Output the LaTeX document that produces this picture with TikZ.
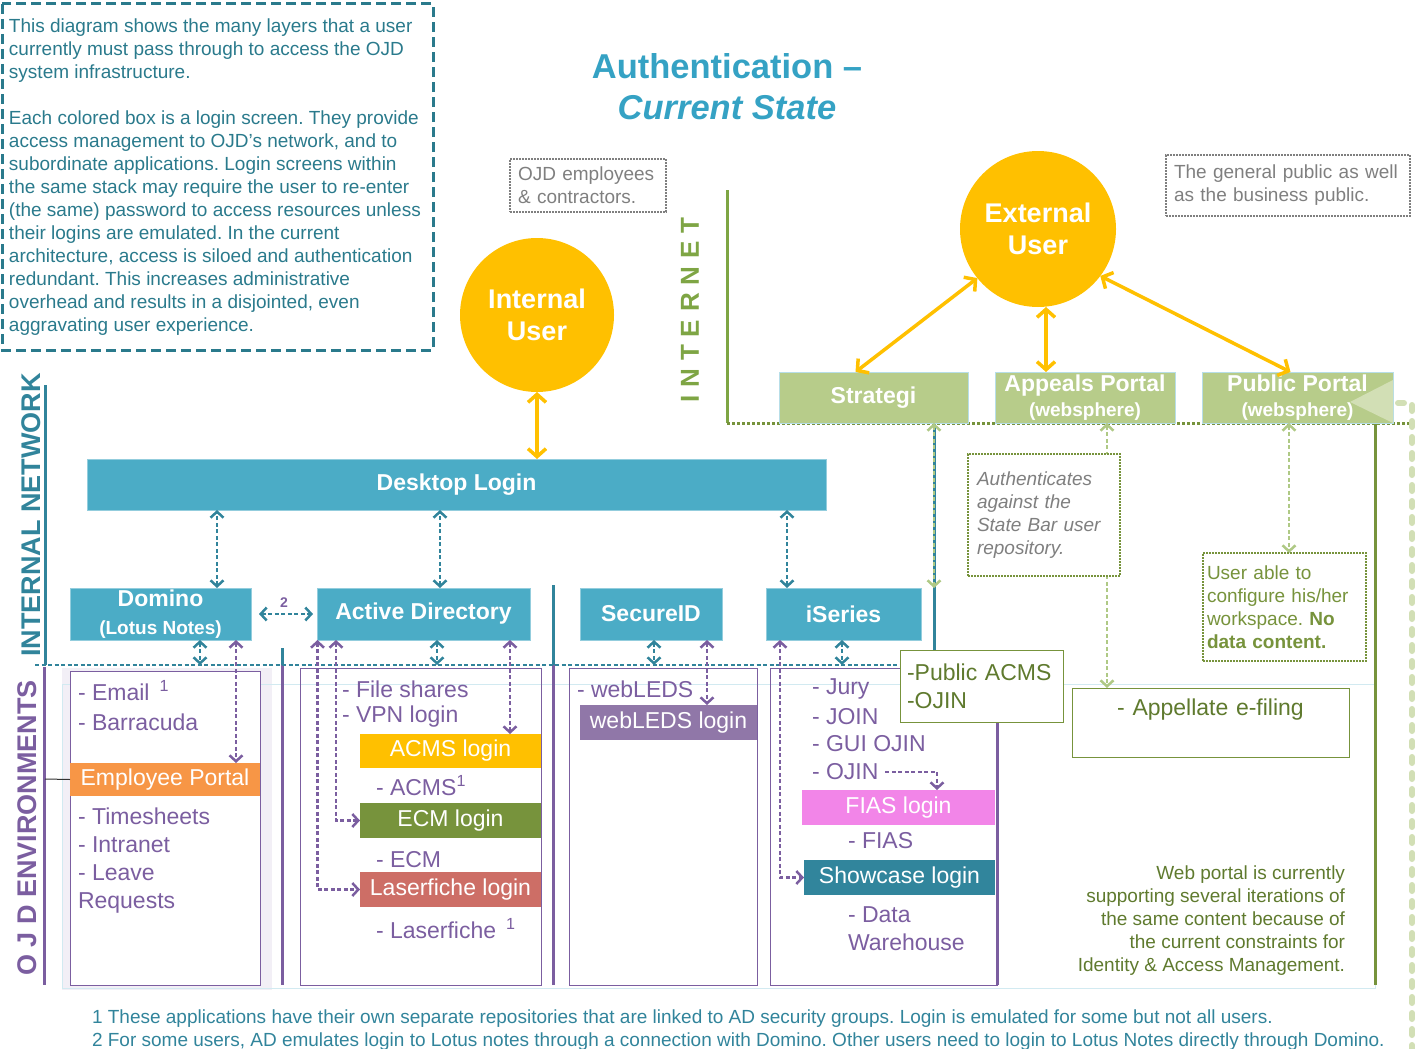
\documentclass[tikz,border=0pt]{standalone}
\usepackage{fontspec}
\setmainfont{Liberation Sans}
\usetikzlibrary{arrows.meta}

\definecolor{ojdblue}{HTML}{4BACC6}
\definecolor{ojdteal}{HTML}{31849B}
\definecolor{ojdtext}{HTML}{2A7A8C}
\definecolor{titleblue}{HTML}{35A2C4}
\definecolor{ojdyellow}{HTML}{FFC000}
\definecolor{webgreen}{HTML}{B7CC8A}
\definecolor{inetgreen}{HTML}{7EA544}
\definecolor{darkgreen}{HTML}{77933C}
\definecolor{webolive}{HTML}{5F7A2E}
\definecolor{palegreen}{HTML}{D2DFB5}
\definecolor{linkgreen}{HTML}{AFC985}
\definecolor{envpurple}{HTML}{7B5EA0}
\definecolor{notegray}{HTML}{7F7F7F}
\definecolor{emporange}{HTML}{F79646}
\definecolor{lfred}{HTML}{CD6E66}
\definecolor{fiaspink}{HTML}{F285E8}
\definecolor{showteal}{HTML}{31859C}
\definecolor{ledspurple}{HTML}{9077A8}

\begin{document}
\frenchspacing
\begin{tikzpicture}[x=1pt, y=-1pt,
  every node/.style = {inner sep=0pt, outer sep=0pt},
  >={Straight Barb[length=6pt,width=13pt]},
  user/.style   = {circle, fill=ojdyellow, text=white, align=center,
    font=\fontsize{27}{32}\selectfont\bfseries},
  sso/.style    = {fill=ojdblue, draw=ojdblue!60!white, text=white,
    align=center, minimum height=52,
    font=\fontsize{23}{29}\selectfont\bfseries},
  portal/.style = {fill=webgreen, draw=ojdblue!40, text=white,
    align=center, minimum height=51,
    font=\fontsize{23}{26}\selectfont\bfseries},
  login/.style  = {text=white, font=\fontsize{23}{24}\selectfont},
  app/.style    = {anchor=west, text=envpurple, align=left,
    font=\fontsize{23}{28}\selectfont},
  envframe/.style = {draw=envpurple, line width=1},
  note/.style   = {draw=notegray, line width=1.5,
    dash pattern=on 2pt off 1pt, text=notegray, align=left,
    inner xsep=8, inner ysep=5, font=\fontsize{19}{23}\selectfont},
  gnote/.style  = {draw=darkgreen, fill=white, line width=2,
    dash pattern=on 2pt off 1pt, align=left,
    font=\fontsize{19}{23}\selectfont},
  gbox/.style   = {draw=darkgreen, fill=white, line width=1,
    text=webolive, font=\fontsize{23}{28}\selectfont},
  ulink/.style  = {draw=ojdyellow, line width=3.5,
    {Straight Barb[length=8pt,width=18pt]}-{Straight Barb[length=8pt,width=18pt]}},
  tlink/.style  = {draw=ojdteal, line width=2.5,
    dash pattern=on 4pt off 2.5pt, <->},
  plink/.style  = {draw=envpurple, line width=2.5,
    dash pattern=on 4pt off 2.5pt, <->},
  glink/.style  = {draw=linkgreen, line width=2.5,
    dash pattern=on 4pt off 2.5pt, <->},
  ]
  \useasboundingbox (0,0) rectangle (1427,1049);

  \draw[ojdtext, line width=3, dash pattern=on 10pt off 5pt]
    (2,4) rectangle (433,350);
  \node[anchor=north west, text=ojdtext, align=left,
    font=\fontsize{19}{23}\selectfont] (intro) at (9,19)
    {This diagram shows the many layers that a user\\
     currently must pass through to access the OJD\\
     system infrastructure.\\[23pt]
     Each colored box is a login screen. They provide\\
     access management to OJD’s network, and to\\
     subordinate applications. Login screens within\\
     the same stack may require the user to re-enter\\
     (the same) password to access resources unless\\
     their logins are emulated. In the current\\
     architecture, access is siloed and authentication\\
     redundant. This increases administrative\\
     overhead and results in a disjointed, even\\
     aggravating user experience.};

  \node[text=titleblue, align=center,
    font=\fontsize{34.5}{41}\selectfont\bfseries] (title) at (727,87)
    {Authentication --\\\itshape Current State};

  \node[note, anchor=north west, text width=140, minimum height=53]
    (empnote) at (510,159) {OJD employees\\\& contractors.};
  \node[note, anchor=north west, text width=228, minimum height=61]
    (pubnote) at (1166,155) {The general public as well\\as the business public.};

  \node[user, minimum size=154] (intuser) at (537,315) {Internal\\User};
  \node[user, minimum size=156] (extuser) at (1038,229) {External\\User};

  % zones
  \node[rotate=90, text=inetgreen,
    font=\fontsize{26}{26}\selectfont\bfseries\addfontfeature{LetterSpace=30}]
    (inet) at (690,310) {INTERNET};
  \node[rotate=90, text=ojdteal, font=\fontsize{27}{27}\selectfont\bfseries]
    (intnet) at (31,515) {INTERNAL NETWORK};
  \node[rotate=90, text=envpurple, font=\fontsize{27}{27}\selectfont\bfseries]
    (ojdenv) at (27,828) {O J D ENVIRONMENTS};
  \draw[inetgreen, line width=3] (727,190) -- (727,423);
  \draw[ojdteal, line width=3] (45,385) -- (45,665);
  \draw[envpurple, line width=3] (44,667) -- (44,985);

  \fill[envpurple!10] (62,668) rectangle (272,990);
  \draw[ojdblue!25, line width=1] (62,684) rectangle (1375,988);
  \draw[envframe, fill=white] (70,671) rectangle (260,985);
  \draw[envframe] (300,668) rectangle (541,985);
  \draw[envframe] (569,668) rectangle (757,985);
  \draw[envframe] (770,668) rectangle (997,985);

  \draw[ojdteal, line width=3] (282,648) -- (282,665);
  \draw[envpurple, line width=3] (282,665) -- (282,985);
  \draw[ojdteal, line width=3] (553,585) -- (553,665);
  \draw[envpurple, line width=3] (553,665) -- (553,985);
  \draw[ojdteal, line width=3] (934,423) -- (934,650);
  \draw[envpurple, line width=3] (997,722) -- (997,985);
  \draw[darkgreen, line width=3] (1375,423) -- (1375,985);

  \coordinate (netL) at (35,665);
  \coordinate (netR) at (905,665);
  \draw[ojdteal, line width=2.5, dash pattern=on 4pt off 2.5pt] (netL) -- (netR);
  \draw[darkgreen, line width=3, dash pattern=on 3pt off 2pt]
    (727,423) -- (1415,423);

  % login screens
  \node[sso, minimum width=739, minimum height=51] (desktop) at (456.5,484.5)
    {Desktop Login};
  \node[sso, minimum width=181] (dom) at (160.5,614)
    {Domino\\[-1pt]{\fontsize{19}{20}\selectfont(Lotus Notes)}};
  \node[sso, minimum width=213] (ad) at (423.5,614) {Active Directory};
  \node[sso, minimum width=142] (sid) at (651,614) {SecureID};
  \node[sso, minimum width=155] (iser) at (843.5,614) {iSeries};

  \node[portal, minimum width=189] (strat) at (873.5,397.5) {Strategi};
  \node[portal, minimum width=180] (appeal) at (1085,397.5)
    {Appeals Portal\\[-1pt]{\fontsize{19}{20}\selectfont(websphere)}};
  \node[portal, minimum width=191] (pub) at (1297.5,397.5)
    {Public Portal\\[-1pt]{\fontsize{19}{20}\selectfont(websphere)}};
  \fill[palegreen] (1393,380) -- (1350,402) -- (1393,423) -- cycle;
  \draw[palegreen, line width=6, line cap=round, dash pattern=on 6pt off 10pt]
    (1398,403) -- (1412,403) -- (1412,1049);

  % environments
  \node[app] (email) at (78,691) {- Email\hspace{10pt}\textsuperscript{1}};
  \node[app] (barra) at (78,722) {- Barracuda};
  \node[login, fill=emporange, minimum width=190, minimum height=33]
    (emp) at (165,779.5) {Employee Portal};
  \node[app, anchor=north west] (empapps) at (78,808)
    {- Timesheets\\- Intranet\\- Leave\\Requests};

  \node[app] (files) at (342,689) {- File shares};
  \node[app] (vpn) at (342,717) {- VPN login};
  \node[login, fill=ojdyellow, minimum width=181, minimum height=34]
    (acms) at (450.5,751) {ACMS login};
  \node[app] (acmsapp) at (376,786) {- ACMS\textsuperscript{1}};
  \node[login, fill=darkgreen, minimum width=181, minimum height=35]
    (ecm) at (450.5,820.5) {ECM login};
  \node[app] (ecmapp) at (376,860) {- ECM};
  \node[login, fill=lfred, minimum width=181, minimum height=35]
    (lf) at (450.5,889.5) {Laserfiche login};
  \node[app] (lfapp) at (376,929) {- Laserfiche\hspace{10pt}\textsuperscript{1}};

  \node[app] (leds) at (577,689) {- webLEDS};
  \node[login, fill=ledspurple, minimum width=177, minimum height=35]
    (wl) at (668.5,722.5) {webLEDS login};

  \node[app] (jury) at (812,689) {- Jury};
  \node[app] (join) at (812,717) {- JOIN};
  \node[app] (gui) at (812,744) {- GUI OJIN};
  \node[app] (ojin) at (812,772) {- OJIN};
  \node[login, fill=fiaspink, minimum width=193, minimum height=35]
    (fias) at (898.5,807.5) {FIAS login};
  \node[app] (fiasapp) at (848,841) {- FIAS};
  \node[login, fill=showteal, minimum width=191, minimum height=35]
    (show) at (899.5,877.5) {Showcase login};
  \node[app, anchor=north west] (dw) at (848,907) {- Data\\Warehouse};

  \node[gbox, anchor=north west, align=left, text width=149, inner xsep=7,
    minimum height=72] (pacms) at (900,650) {-Public ACMS\\-OJIN};
  \node[gbox, anchor=north west, align=center, text width=277,
    text height=22, text depth=37, inner ysep=5] (efile) at (1072,688)
    {- Appellate e-filing};

  \node[anchor=north east, align=right, text=webolive,
    font=\fontsize{19}{23}\selectfont] (webtext) at (1345,866)
    {Web portal is currently\\supporting several iterations of\\
     the same content because of\\the current constraints for\\
     Identity \& Access Management.};

  % connections
  \draw[ulink] (intuser.south) -- (intuser.south |- desktop.north);
  \draw[ulink] (extuser.-141) -- ([xshift=-18]strat.north);
  \draw[ulink] ([xshift=8]extuser.south) -- ([xshift=8]extuser.south |- appeal.north);
  \draw[ulink] (extuser.-37) -- ([xshift=-7]pub.north);

  \draw[tlink] ([xshift=56.5]dom.north) -- ([xshift=56.5]dom.north |- desktop.south);
  \draw[tlink] ([xshift=16.5]ad.north) -- ([xshift=16.5]ad.north |- desktop.south);
  \draw[tlink] ([xshift=-56.5]iser.north) -- ([xshift=-56.5]iser.north |- desktop.south);
  \draw[tlink, shorten <=8, shorten >=4] (dom.east) -- (ad.west)
    node[midway, above=7, text=envpurple,
      font=\fontsize{14}{14}\selectfont\bfseries] (fn2) {2};
  \draw[tlink] ([xshift=39.5]dom.south) -- ([xshift=39.5]dom.south |- netL);
  \draw[tlink] ([xshift=13.5]ad.south) -- ([xshift=13.5]ad.south |- netL);
  \draw[tlink] ([xshift=3]sid.south) -- ([xshift=3]sid.south |- netL);
  \draw[tlink] ([xshift=-1.5]iser.south) -- ([xshift=-1.5]iser.south |- netL);

  \draw[plink] ([xshift=75.5]dom.south) -- ([xshift=75.5]dom.south |- emp.north);
  \draw[plink] ([xshift=86.5]ad.south) -- ([xshift=86.5]ad.south |- acms.north);
  \draw[plink] ([xshift=-87.5]ad.south) |- (ecm.west);
  \draw[plink] ([xshift=-106]ad.south) |- (lf.west);
  \draw[plink] ([xshift=56]sid.south) -- ([xshift=56]sid.south |- wl.north);
  \draw[plink] ([xshift=-63.5]iser.south) |- (show.west);
  \draw[plink, ->] ([xshift=7]ojin.east) -| ([xshift=38.5]fias.north);
  \draw[black!80, line width=1] (45,779) -- (emp.west);

  \draw[glink] ([xshift=60.5]strat.south) -- ([xshift=60.5]strat.south |- iser.north);
  \draw[glink] ([xshift=22]appeal.south) -- ([xshift=22]appeal.south |- efile.north);
  \draw[glink] ([xshift=-8.5]pub.south) -- ([xshift=-8.5]pub.south |- 0,553);

  \node[gnote, anchor=north west, text=notegray, text width=134,
    inner xsep=9, minimum height=122, font=\fontsize{19}{23}\selectfont\itshape]
    (barnote) at (968,454)
    {Authenticates\\against the\\State Bar user\\repository.};
  \node[gnote, anchor=north west, text=darkgreen, text width=155,
    inner xsep=4, minimum height=108] (usernote) at (1203,553)
    {User able to\\configure his/her\\workspace. \textbf{No}\\\textbf{data content.}};

  \node[anchor=west, text=ojdteal, font=\fontsize{19}{20}\selectfont]
    (foot1) at (92,1019) {1 These applications have their own separate
    repositories that are linked to AD security groups. Login is emulated
    for some but not all users.};
  \node[anchor=west, text=ojdteal, font=\fontsize{19}{20}\selectfont]
    (foot2) at (92,1042) {2 For some users, AD emulates login to Lotus notes
    through a connection with Domino. Other users need to login to Lotus
    Notes directly through Domino.};
\end{tikzpicture}
\end{document}
